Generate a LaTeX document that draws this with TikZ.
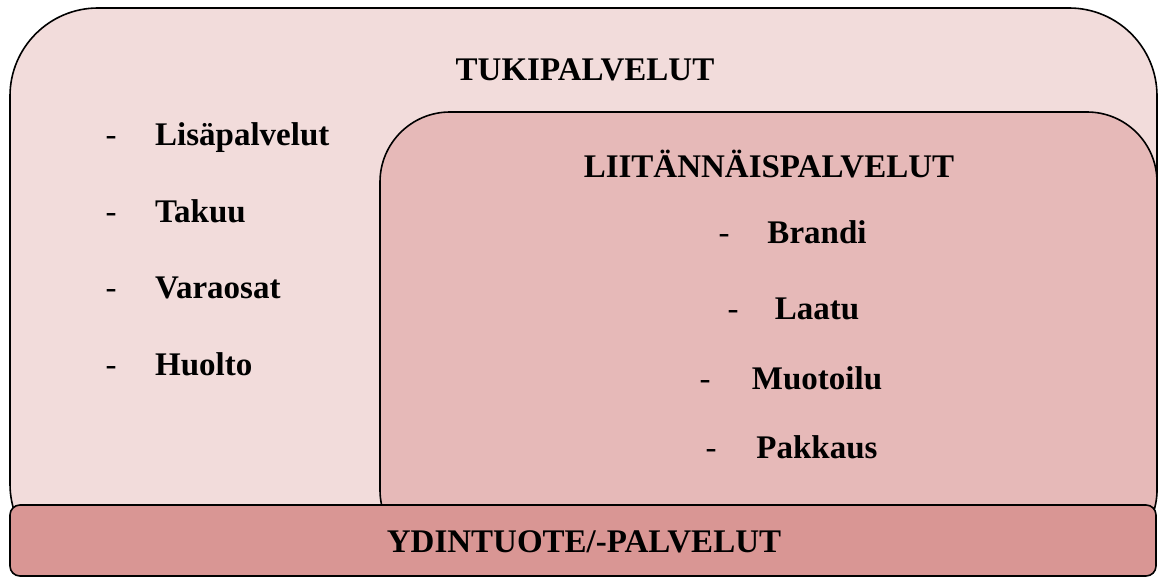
\documentclass[tikz,border=0pt]{standalone}
\usepackage{fontspec}
\setmainfont{Liberation Serif}
\definecolor{outerfill}{HTML}{F2DCDB}
\definecolor{innerfill}{HTML}{E6B9B8}
\definecolor{barfill}{HTML}{D99694}
\begin{document}
\begin{tikzpicture}[x=1pt,y=-1pt,
  boxline/.style={draw=black,line width=1.6pt},
  lbl/.style={font=\fontsize{33}{38}\selectfont\bfseries,inner sep=0pt},
  itemlbl/.style={font=\fontsize{33}{38}\selectfont\bfseries,inner sep=0pt},
  dashlbl/.style={font=\fontsize{33}{38}\selectfont,inner sep=0pt,anchor=base}]
\useasboundingbox (0,0) rectangle (1158,578);
% outer box
\draw[boxline,fill=outerfill,rounded corners=88] (10,8) rectangle (1157,572);
% inner box
\draw[boxline,fill=innerfill,rounded corners=70] (380,112) rectangle (1157,560);
% bottom bar
\draw[boxline,fill=barfill,rounded corners=10] (10,505) rectangle (1156,576);
% titles
\node[lbl,anchor=base] (tuki) at (585,80) {TUKIPALVELUT};
\node[lbl,anchor=base] (liit) at (769,177) {LIITÄNNÄISPALVELUT};
\node[lbl,anchor=base] (ydin) at (584,552) {YDINTUOTE/-PALVELUT};
% left list
\node[dashlbl] (d1) at (111,145) {-};
\node[itemlbl,anchor=base west] (l1) at (155,145) {Lisäpalvelut};
\node[dashlbl] (d2) at (111,222) {-};
\node[itemlbl,anchor=base west] (l2) at (155,222) {Takuu};
\node[dashlbl] (d3) at (111,298) {-};
\node[itemlbl,anchor=base west] (l3) at (155,298) {Varaosat};
\node[dashlbl] (d4) at (111,375) {-};
\node[itemlbl,anchor=base west] (l4) at (155,375) {Huolto};
% inner list
\node[dashlbl] (e1) at (724,243) {-};
\node[itemlbl,anchor=base] (i1) at (817,243) {Brandi};
\node[dashlbl] (e2) at (733,319) {-};
\node[itemlbl,anchor=base] (i2) at (817,319) {Laatu};
\node[dashlbl] (e3) at (705,389) {-};
\node[itemlbl,anchor=base] (i3) at (817,389) {Muotoilu};
\node[dashlbl] (e4) at (711,458) {-};
\node[itemlbl,anchor=base] (i4) at (817,458) {Pakkaus};
\end{tikzpicture}
\end{document}
